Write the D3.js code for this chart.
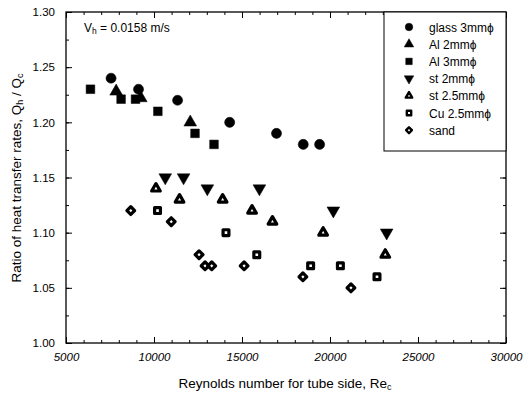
<!DOCTYPE html>
<html>
<head>
<meta charset="utf-8">
<script src="https://cdn.jsdelivr.net/npm/d3@7"></script>
<style>
  body { margin: 0; background: #fff; }
  text { font-family: "Liberation Sans", Arial, sans-serif; fill: #000; }
</style>
</head>
<body>
<div id="chart"></div>
<script>
/* data: Reynolds number vs Qh/Qc */
const glass3 = [[7560,1.24],[9120,1.23],[11340,1.22],[14300,1.20],[16960,1.19],[18480,1.18],[19410,1.18]];
const al2 = [[7850,1.228],[9250,1.222],[12060,1.20]];
const al3 = [[6390,1.23],[8130,1.221],[8950,1.221],[10220,1.21],[12330,1.19],[13410,1.18]];
const st2 = [[10640,1.15],[11680,1.15],[13030,1.14],[15990,1.14],[20190,1.12],[23220,1.10]];
const st25 = [[10110,1.14],[11450,1.13],[13900,1.13],[15570,1.12],[16730,1.11],[19610,1.10],[23140,1.08]];
const cu25 = [[10200,1.12],[14090,1.10],[15840,1.08],[18900,1.07],[20590,1.07],[22670,1.06]];
const sand = [[8680,1.12],[10980,1.11],[12560,1.08],[12900,1.07],[13280,1.07],[15120,1.07],[18460,1.06],[21190,1.05]];

const seriesNames = ["glass 3mm\u03d5","Al 2mm\u03d5","Al 3mm\u03d5","st 2mm\u03d5","st 2.5mm\u03d5","Cu 2.5mm\u03d5","sand"];
const seriesData = [glass3, al2, al3, st2, st25, cu25, sand];
const xTicks = [5000,10000,15000,20000,25000,30000];
const yTicks = [1.00,1.05,1.10,1.15,1.20,1.25,1.30];

const W = 524, H = 399;
const m = {left: 66, right: 18, top: 12, bottom: 56};

const svg = d3.select("#chart").append("svg")
  .attr("width", W).attr("height", H);

const x = d3.scaleLinear().domain([5000,30000]).range([m.left, W - m.right]);
const y = d3.scaleLinear().domain([1.0,1.3]).range([H - m.bottom, m.top]);

/* marker styles per series */
const markers = [
  {type: d3.symbolCircle, size: 80, open: false, rot: 0},
  {type: d3.symbolTriangle, size: 70, open: false, rot: 0},
  {type: d3.symbolSquare, size: 75, open: false, rot: 0},
  {type: d3.symbolTriangle, size: 70, open: false, rot: 180},
  {type: d3.symbolTriangle, size: 32, open: true, rot: 0},
  {type: d3.symbolSquare, size: 34, open: true, rot: 0},
  {type: d3.symbolSquare, size: 30, open: true, rot: 45}
];

function drawMarker(g, k, px, py, sc) {
  const mk = markers[k];
  g.append("path")
    .attr("d", d3.symbol().type(mk.type).size(mk.size * sc * sc)())
    .attr("transform", "translate(" + px + "," + py + ") rotate(" + mk.rot + ")")
    .attr("fill", mk.open ? "#fff" : "#000")
    .attr("stroke", "#000")
    .attr("stroke-linejoin", "round")
    .attr("stroke-width", mk.open ? 3.2 * sc : 0.5);
}

/* axes with ticks inside on all sides */
const plotH = H - m.bottom - m.top, plotW = W - m.left - m.right;

svg.append("g").attr("transform", "translate(0," + (H - m.bottom) + ")")
  .call(d3.axisBottom(x).tickValues(d3.range(5000,30001,1000)).tickSize(-3).tickFormat(""));
svg.append("g").attr("transform", "translate(0," + (H - m.bottom) + ")")
  .call(d3.axisBottom(x).tickValues(xTicks).tickSize(-6).tickPadding(10).tickFormat(d3.format("d")))
  .call(g => g.selectAll("text").attr("font-size", 11.5).attr("font-style", "italic"));
svg.append("g").attr("transform", "translate(0," + m.top + ")")
  .call(d3.axisTop(x).tickValues(d3.range(5000,30001,1000)).tickSize(-3).tickFormat(""));
svg.append("g").attr("transform", "translate(0," + m.top + ")")
  .call(d3.axisTop(x).tickValues(xTicks).tickSize(-6).tickFormat(""));

svg.append("g").attr("transform", "translate(" + m.left + ",0)")
  .call(d3.axisLeft(y).tickValues(d3.range(1.0,1.301,0.025)).tickSize(-3).tickFormat(""));
svg.append("g").attr("transform", "translate(" + m.left + ",0)")
  .call(d3.axisLeft(y).tickValues(yTicks).tickSize(-6).tickPadding(11).tickFormat(d3.format(".2f")))
  .call(g => g.selectAll("text").attr("font-size", 11.5));
svg.append("g").attr("transform", "translate(" + (W - m.right) + ",0)")
  .call(d3.axisRight(y).tickValues(d3.range(1.0,1.301,0.025)).tickSize(-3).tickFormat(""));
svg.append("g").attr("transform", "translate(" + (W - m.right) + ",0)")
  .call(d3.axisRight(y).tickValues(yTicks).tickSize(-6).tickFormat(""));

svg.selectAll(".domain").remove();
svg.selectAll(".tick line").attr("stroke", "#000").attr("stroke-width", 1);

svg.append("rect")
  .attr("x", m.left).attr("y", m.top).attr("width", plotW).attr("height", plotH)
  .attr("fill", "none").attr("stroke", "#000").attr("stroke-width", 1.3);

/* points */
const pts = svg.append("g");
seriesData.forEach((s, k) => {
  s.forEach(d => drawMarker(pts, k, x(d[0]), y(d[1]), 1));
});

/* annotation */
const ann = svg.append("text").attr("x", 84).attr("y", 32).attr("font-size", 12);
ann.append("tspan").text("V");
ann.append("tspan").attr("font-size", 8.5).attr("dy", 2).text("h");
ann.append("tspan").attr("dy", -2).text(" = 0.0158 m/s");

/* legend */
const lg = svg.append("g");
lg.append("rect").attr("x", 384).attr("y", m.top).attr("width", W - m.right - 384).attr("height", 139)
  .attr("fill", "#fff").attr("stroke", "#000").attr("stroke-width", 1);
seriesNames.forEach((name, k) => {
  const ly = 27 + k * 17.2;
  drawMarker(lg, k, 409, ly, 0.75);
  lg.append("text").attr("x", 429).attr("y", ly + 4.5).attr("font-size", 12).text(name);
});

/* axis titles */
const xl = svg.append("text").attr("x", 285).attr("y", 388).attr("text-anchor", "middle").attr("font-size", 13.5);
xl.append("tspan").text("Reynolds number for tube side, Re");
xl.append("tspan").attr("font-size", 9).attr("dy", 2).text("c");

const yl = svg.append("text").attr("transform", "translate(21," + 178 + ") rotate(-90)")
  .attr("text-anchor", "middle").attr("font-size", 13.5);
yl.append("tspan").text("Ratio of heat transfer rates,  Q");
yl.append("tspan").attr("font-size", 9).attr("dy", 2).text("h");
yl.append("tspan").attr("dy", -2).text(" / Q");
yl.append("tspan").attr("font-size", 9).attr("dy", 2).text("c");
</script>
</body>
</html>
